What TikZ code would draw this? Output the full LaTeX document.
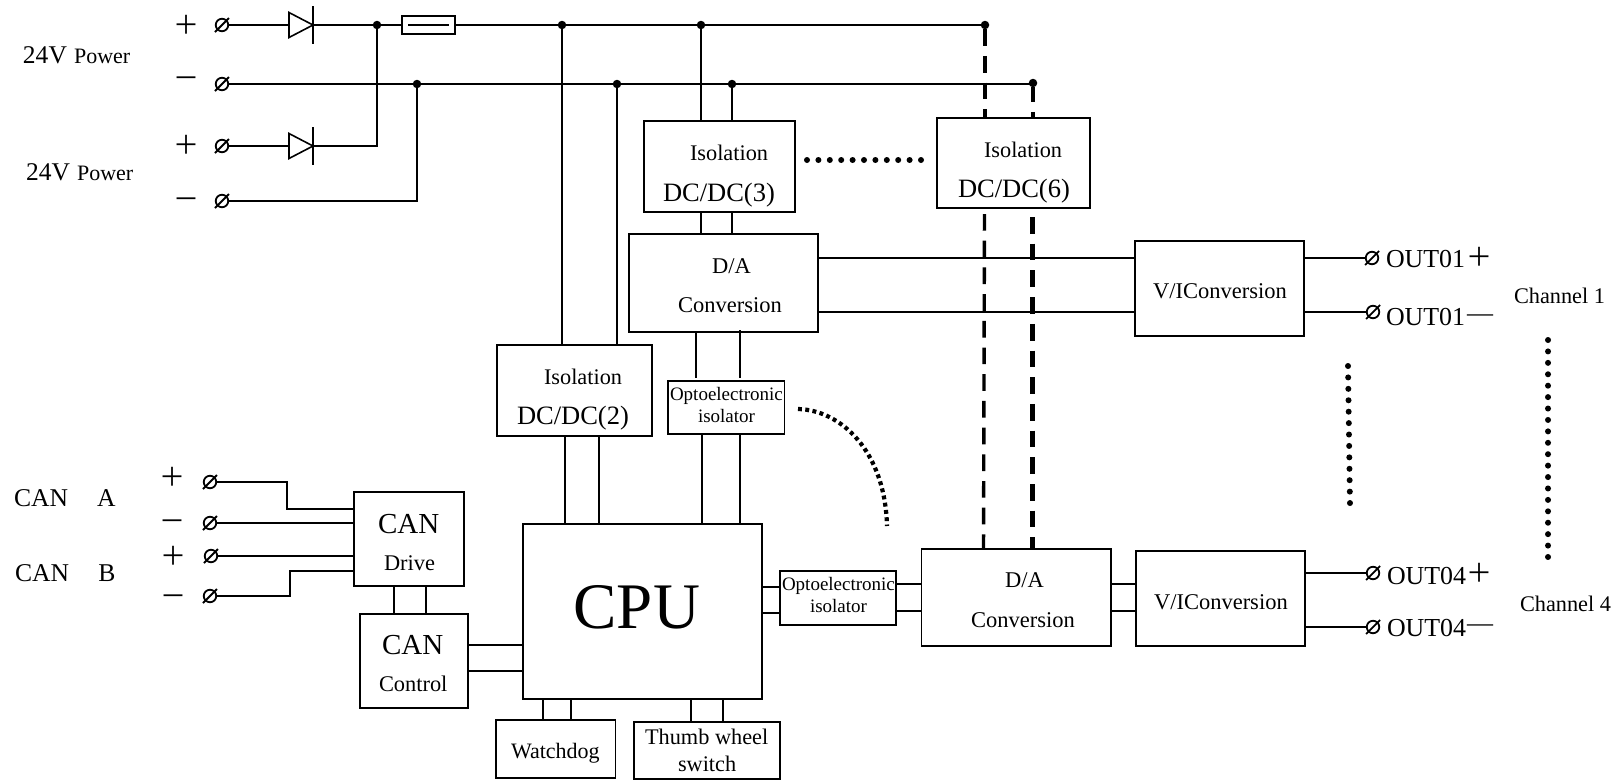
\documentclass[tikz,border=0pt]{standalone}
\usepackage{fontspec}
\setmainfont{Liberation Serif}
\newfontfamily\signfont{Noto Sans CJK SC}
\newcommand\fs[1]{\fontsize{#1}{#1}\selectfont}
\tikzset{
  wire/.style={line width=1.8pt},
  bbox/.style={draw,line width=1.8pt,inner sep=0pt,outer sep=0pt},
  lbl/.style={anchor=base west,inner sep=0pt,outer sep=0pt,text=black},
  sign/.style={anchor=base,inner sep=0pt,outer sep=0pt,text=black},
  jdot/.style={circle,fill=black,inner sep=0pt,minimum size=8.5pt,outer sep=0pt},
  termn/.style={circle,draw,line width=1.8pt,inner sep=0pt,minimum size=12.5pt,outer sep=0pt},
  dashA/.style={line width=3.4pt,dash pattern=on 16.7pt off 10pt},
  dashB/.style={line width=4.6pt,dash pattern=on 16.7pt off 10pt},
  dotrow/.style={line width=6pt,line cap=round,dash pattern=on 0pt off #1},
  arcdash/.style={line width=4.2pt,dash pattern=on 3.9pt off 3.4pt}
}
\newcommand\boxnode[5]{\node[bbox,minimum width=#4pt-#2pt,minimum height=#5pt-#3pt] (#1) at ({(#2+#4)/2},{(#3+#5)/2}) {};}
\newcommand\lblnode[5]{\node[lbl,font=\fs{#2}] (#1) at (#3,#4) {#5};}
% centre of the glyph given: the base line lies 0.38 em below it
\newcommand\signnode[4]{\node[sign,font=\signfont\fs{26}] (#1) at (#2,#3+9.9) {#4};}
\newcommand\termnode[3]{\node[termn] (#1) at (#2,#3) {};\draw[line width=1.8pt] ([shift={(-7,7)}]#1.center) -- ([shift={(7,-7)}]#1.center);}
\newcommand\hlink[3]{\draw[wire] (#1.east |- 0,#3) -- (#2.west |- 0,#3);}
\newcommand\vlink[3]{\draw[wire] (#3,0 |- #1.south) -- (#3,0 |- #2.north);}
\newcommand\diode[3]{%
  \coordinate (#1a) at (#2,#3);
  \coordinate (#1k) at (#2+24,#3);
  \draw[line width=1.6pt] (#1a) ++(0,-12.5) -- (#1k) -- ++(-24,12.5) -- cycle;
  \draw[line width=1.6pt] (#1k) ++(0,-19) -- ++(0,38);}
\begin{document}
\begin{tikzpicture}[x=1pt,y=-1pt]
\fill[white] (0,0) rectangle (1621,780);
\useasboundingbox (0,0) rectangle (1621,780);

% boxes
\boxnode{fuse}{402}{16}{455}{34}
\boxnode{dctwo}{497}{345}{652}{436}
\boxnode{dcthree}{644}{121}{795}{212}
\boxnode{dcsix}{937}{118}{1090}{208}
\boxnode{daone}{629}{234}{818}{332}
\boxnode{optoone}{668}{381}{784.5}{434}
\boxnode{vione}{1135}{241}{1304}{336}
\boxnode{candrive}{354}{492}{464}{586}
\boxnode{cancontrol}{360}{614}{468}{708}
\boxnode{cpu}{523}{524}{762}{699}
\boxnode{optotwo}{780}{571}{896}{625}
\boxnode{datwo}{921.5}{549}{1111}{646}
\boxnode{vitwo}{1136}{551}{1305}{646}
\boxnode{watchdog}{496}{720}{615.5}{778}
\boxnode{thumb}{634}{722}{780}{779}

% power terminals, junctions
\termnode{pa}{222}{25}
\termnode{pb}{222}{84}
\termnode{pc}{222}{146}
\termnode{pd}{222}{201}
\diode{da}{289}{25}
\diode{db}{289}{146}
\node[jdot] (jone) at (377,25) {};
\node[jdot] (jtwo) at (417,84) {};
\node[jdot] (jthree) at (562,25) {};
\node[jdot] (jfour) at (701,25) {};
\node[jdot] (jfive) at (985,25) {};
\node[jdot] (jsix) at (617,84) {};
\node[jdot] (jseven) at (732,84) {};
\node[jdot] (jeight) at (1033,83) {};

\draw[wire] (pa) -- (daa);
\draw[wire] (dak) -- (jone) -- (fuse.west);
\draw[wire] (fuse.east) -- (jthree) -- (jfour) -- (jfive);
\draw[line width=1.6pt] (408,25) -- (449,25);
\draw[wire] (pb) -- (jtwo) -- (jsix) -- (jseven) -- (jeight.center |- pb);
\draw[wire] (pc) -- (dba);
\draw[wire] (dbk) -- (jone |- dbk) -- (jone);
\draw[wire] (pd) -- (jtwo |- pd) -- (jtwo);
\draw[wire] (jthree) -- (jthree |- dctwo.north);
\draw[wire] (jsix) -- (jsix |- dctwo.north);
\draw[wire] (jfour) -- (jfour |- dcthree.north);
\draw[wire] (jseven) -- (jseven |- dcthree.north);

% links between boxes
\vlink{dcthree}{daone}{701}
\vlink{dcthree}{daone}{732}
\draw[wire,shorten >=3pt] (696,0 |- daone.south) -- (696,0 |- optoone.north);
\draw[wire,shorten >=3pt,shorten <=-2pt] (740,0 |- daone.south) -- (740,0 |- optoone.north);
\vlink{dctwo}{cpu}{565}
\vlink{dctwo}{cpu}{599}
\vlink{optoone}{cpu}{702}
\vlink{optoone}{cpu}{740}
\vlink{cpu}{watchdog}{543}
\vlink{cpu}{watchdog}{571}
\vlink{cpu}{thumb}{691}
\vlink{cpu}{thumb}{723}
\vlink{candrive}{cancontrol}{394}
\vlink{candrive}{cancontrol}{426}
\hlink{cancontrol}{cpu}{645}
\hlink{cancontrol}{cpu}{671}
\hlink{cpu}{optotwo}{587}
\hlink{cpu}{optotwo}{613}
\hlink{optotwo}{datwo}{584}
\hlink{optotwo}{datwo}{611}
\hlink{datwo}{vitwo}{584}
\hlink{datwo}{vitwo}{611}
\hlink{daone}{vione}{258}
\hlink{daone}{vione}{312}

% CAN terminals
\termnode{ca}{210}{482}
\termnode{cb}{210}{523}
\termnode{cc}{211}{556}
\termnode{cd}{210}{596}
\draw[wire] (ca) -- (287,482) -- (287,509) -- (candrive.west |- 0,509);
\draw[wire] (cb) -- (candrive.west |- cb);
\draw[wire] (cc) -- (candrive.west |- cc);
\draw[wire] (cd) -- (290,596) -- (290,571) -- (candrive.west |- 0,571);

% output terminals
\termnode{oa}{1372}{258}
\termnode{ob}{1373}{312}
\termnode{oc}{1373}{573}
\termnode{od}{1373}{627}
\draw[wire] (vione.east |- oa) -- (oa);
\draw[wire] (vione.east |- ob) -- (ob);
\draw[wire] (vitwo.east |- oc) -- (oc);
\draw[wire] (vitwo.east |- od) -- (od);

% dashed supply lines
\draw[dashA] (jfive) -- (jfive |- dcsix.north);
\draw[dashB,dash phase=2pt] (jeight) -- (jeight |- dcsix.north);
\draw[dashA,shorten <=6pt] (984.5,0 |- dcsix.south) -- (983.5,0 |- datwo.north);
\draw[dashB,shorten <=9pt] (1032.5,0 |- dcsix.south) -- (1032.5,0 |- datwo.north);

% dotted continuation marks
\draw[dotrow=11.4pt] (807,160) -- (923,160);
\draw[dotrow=11.42pt] (1348,366) -- (1350,505);
\draw[dotrow=11.42pt] (1548,340) -- (1548,559);
\draw[arcdash] (798,409) .. controls (840,410) and (885,450) .. (887,526);

% texts
\lblnode{ptxta}{25.5}{23}{63}{24V \hspace{0.8pt}{\fs{22}Power}}
\lblnode{ptxtb}{25.5}{26}{180}{24V \hspace{0.8pt}{\fs{22}Power}}
\lblnode{cantxta}{25.6}{14}{506}{CAN \hspace{22.6pt}A}
\lblnode{cantxtb}{25.6}{15}{581}{CAN \hspace{23pt}B}
\signnode{sa}{186}{24.5}{＋}
\signnode{sb}{186}{78}{－}
\signnode{sc}{186}{145}{＋}
\signnode{sd}{186}{199}{－}
\signnode{se}{172}{477}{＋}
\signnode{sf}{172}{521}{－}
\signnode{sg}{173}{556}{＋}
\signnode{sh}{173}{596}{－}

\lblnode{tcana}{29}{378}{533}{CAN}
\lblnode{tdrive}{22.4}{384}{570}{Drive}
\lblnode{tcanb}{29}{382}{654}{CAN}
\lblnode{tcontrol}{22.4}{379}{691}{Control}
\lblnode{tcpu}{65}{573.5}{628}{CPU}
\lblnode{tisoa}{22.3}{544}{384}{Isolation}
\lblnode{tdca}{26.5}{517}{424}{DC/DC(2)}
\lblnode{tisob}{22.3}{690}{160}{Isolation}
\lblnode{tdcb}{26.5}{663}{201}{DC/DC(3)}
\lblnode{tisoc}{22.3}{984}{157}{Isolation}
\lblnode{tdcc}{26.5}{958}{197}{DC/DC(6)}
\lblnode{tdaa}{22.5}{712}{273}{D/A}
\lblnode{tconva}{22.5}{678}{312}{Conversion}
\lblnode{tdab}{22.5}{1005}{587}{D/A}
\lblnode{tconvb}{22.5}{971}{627}{Conversion}
\lblnode{toptoa}{19}{670}{400}{Optoelectronic}
\lblnode{tisola}{19}{698}{422}{isolator}
\lblnode{toptob}{19}{782}{590}{Optoelectronic}
\lblnode{tisolb}{19}{810}{612}{isolator}
\lblnode{tvia}{22.5}{1153}{298}{V/IConversion}
\lblnode{tvib}{22.5}{1154}{609}{V/IConversion}
\lblnode{twatch}{22}{511}{758}{Watchdog}
\lblnode{tthumb}{22.3}{645}{744}{Thumb wheel}
\lblnode{tswitch}{22.3}{678}{771}{switch}
\lblnode{toa}{25.9}{1386}{267}{OUT01}
\lblnode{tob}{25.9}{1386}{325}{OUT01}
\lblnode{toc}{25.9}{1387}{584}{OUT04}
\lblnode{tod}{25.9}{1387}{636}{OUT04}
\signnode{soa}{1479}{257}{＋}
\signnode{soc}{1479}{573}{＋}
\node[sign,font=\fs{26}] (sob) at (1480,321.5) {—};
\node[sign,font=\fs{26}] (sod) at (1480,631.5) {—};
\lblnode{tcha}{22.3}{1514}{303}{Channel 1}
\lblnode{tchb}{22.3}{1520}{611}{Channel 4}
\end{tikzpicture}
\end{document}
